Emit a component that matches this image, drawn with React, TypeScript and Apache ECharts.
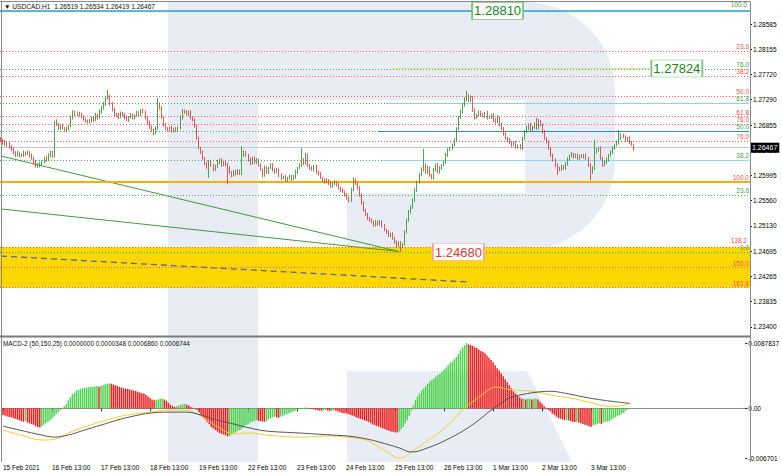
import React, { useEffect, useRef } from "react";
import * as echarts from "echarts";

const FONT = "'Liberation Sans', Arial, sans-serif";

// ---- time axis ----
const DAYS = ["15 Feb", "16 Feb", "17 Feb", "18 Feb", "19 Feb", "22 Feb", "23 Feb", "24 Feb", "25 Feb", "26 Feb", "1 Mar", "2 Mar", "3 Mar", "4 Mar"];
const FIRST_DAY_START_HOUR = 13;
const LAST_DAY_END_HOUR = 8;
const SLOT_COUNT = 364;
const FIRST_LABEL = "15 Feb 2021";

// ---- price data (H1 candles) ----
const PIP = 0.0001;
const FIRST_OPEN = 1.2662;
const CLOSES = [
  1.2660, 1.2656, 1.2651, 1.2655, 1.2648, 1.2643, 1.2639, 1.2634, 1.2638, 1.2633,
  1.2634, 1.2638, 1.2636, 1.2639, 1.2634, 1.2629, 1.2622, 1.2615, 1.2617, 1.2620,
  1.2622, 1.2629, 1.2626, 1.2634, 1.2639, 1.2633, 1.2691, 1.2686, 1.2680, 1.2684,
  1.2680, 1.2677, 1.2680, 1.2684, 1.2698, 1.2708, 1.2703, 1.2706, 1.2703, 1.2699,
  1.2696, 1.2692, 1.2691, 1.2692, 1.2698, 1.2694, 1.2703, 1.2698, 1.2708, 1.2715,
  1.2720, 1.2732, 1.2735, 1.2722, 1.2711, 1.2704, 1.2703, 1.2699, 1.2706, 1.2703,
  1.2698, 1.2694, 1.2699, 1.2703, 1.2698, 1.2701, 1.2706, 1.2703, 1.2711, 1.2708,
  1.2698, 1.2691, 1.2682, 1.2677, 1.2672, 1.2680, 1.2722, 1.2715, 1.2698, 1.2686,
  1.2680, 1.2677, 1.2680, 1.2675, 1.2679, 1.2677, 1.2680, 1.2698, 1.2710, 1.2708,
  1.2704, 1.2708, 1.2698, 1.2694, 1.2684, 1.2663, 1.2646, 1.2639, 1.2629, 1.2620,
  1.2614, 1.2622, 1.2617, 1.2609, 1.2615, 1.2622, 1.2626, 1.2617, 1.2622, 1.2619,
  1.2612, 1.2605, 1.2600, 1.2605, 1.2602, 1.2607, 1.2603, 1.2634, 1.2639, 1.2633,
  1.2626, 1.2620, 1.2629, 1.2622, 1.2626, 1.2617, 1.2609, 1.2600, 1.2612, 1.2605,
  1.2612, 1.2617, 1.2609, 1.2605, 1.2609, 1.2600, 1.2595, 1.2597, 1.2591, 1.2595,
  1.2598, 1.2593, 1.2597, 1.2605, 1.2612, 1.2617, 1.2626, 1.2620, 1.2634, 1.2617,
  1.2612, 1.2609, 1.2615, 1.2605, 1.2602, 1.2595, 1.2591, 1.2588, 1.2591, 1.2586,
  1.2581, 1.2585, 1.2588, 1.2583, 1.2578, 1.2574, 1.2571, 1.2566, 1.2561, 1.2557,
  1.2574, 1.2591, 1.2586, 1.2578, 1.2566, 1.2552, 1.2540, 1.2532, 1.2526, 1.2523,
  1.2520, 1.2514, 1.2520, 1.2516, 1.2520, 1.2513, 1.2506, 1.2502, 1.2497, 1.2499,
  1.2492, 1.2485, 1.2480, 1.2484, 1.2478, 1.2482, 1.2502, 1.2523, 1.2537, 1.2544,
  1.2557, 1.2574, 1.2588, 1.2600, 1.2609, 1.2617, 1.2605, 1.2612, 1.2600, 1.2595,
  1.2609, 1.2617, 1.2605, 1.2612, 1.2617, 1.2622, 1.2634, 1.2643, 1.2646, 1.2651,
  1.2660, 1.2680, 1.2698, 1.2708, 1.2720, 1.2728, 1.2735, 1.2728, 1.2732, 1.2711,
  1.2698, 1.2703, 1.2708, 1.2703, 1.2701, 1.2706, 1.2698, 1.2699, 1.2703, 1.2694,
  1.2691, 1.2698, 1.2686, 1.2680, 1.2670, 1.2663, 1.2660, 1.2656, 1.2651, 1.2655,
  1.2648, 1.2650, 1.2646, 1.2663, 1.2674, 1.2680, 1.2686, 1.2677, 1.2682, 1.2687,
  1.2680, 1.2691, 1.2686, 1.2674, 1.2663, 1.2656, 1.2646, 1.2634, 1.2626, 1.2617,
  1.2612, 1.2609, 1.2615, 1.2612, 1.2619, 1.2626, 1.2633, 1.2636, 1.2631, 1.2634,
  1.2629, 1.2633, 1.2631, 1.2634, 1.2629, 1.2617, 1.2605, 1.2612, 1.2639, 1.2643,
  1.2646, 1.2629, 1.2617, 1.2622, 1.2626, 1.2634, 1.2639, 1.2646, 1.2651, 1.2655,
  1.2663, 1.2668, 1.2665, 1.2660, 1.2663, 1.2656, 1.26519, 1.26467,
];
const UPPER_WICK_PIPS = [
  3, 2, 4, 3, 2, 3, 4, 2, 3, 2, 3, 4, 2, 3, 2, 3, 2, 4, 3, 2,
  3, 2, 4, 3, 3, 2, 2, 4, 3, 2, 3, 2, 3, 2, 4, 3, 2, 3, 2, 4,
  3, 2, 3, 4, 2, 3, 3, 2, 4, 3, 5, 3, 11, 2, 3, 4, 2, 3, 3, 2,
  3, 4, 2, 3, 2, 3, 4, 3, 2, 3, 2, 3, 2, 3, 2, 3, 10, 2, 3, 2,
  3, 2, 3, 4, 2, 3, 3, 4, 3, 2, 3, 2, 3, 2, 3, 2, 3, 2, 3, 2,
  3, 4, 3, 2, 3, 4, 2, 3, 2, 3, 2, 3, 2, 3, 4, 3, 2, 15, 3, 2,
  3, 4, 2, 3, 3, 2, 3, 2, 4, 3, 2, 3, 3, 2, 3, 2, 3, 2, 3, 2,
  3, 2, 3, 4, 2, 3, 20, 3, 4, 3, 2, 3, 2, 3, 2, 3, 2, 3, 3, 2,
  3, 2, 3, 2, 3, 2, 3, 2, 3, 2, 4, 5, 3, 2, 3, 2, 3, 2, 3, 2,
  3, 2, 3, 2, 3, 2, 3, 2, 3, 2, 3, 2, 3, 2, 3, 2, 3, 2, 3, 4,
  3, 3, 2, 3, 4, 28, 3, 4, 3, 2, 3, 2, 4, 3, 2, 3, 4, 3, 2, 3,
  3, 2, 3, 4, 3, 5, 9, 3, 4, 3, 3, 2, 3, 2, 3, 2, 4, 3, 2, 3,
  3, 4, 2, 3, 2, 3, 2, 3, 2, 3, 3, 2, 3, 2, 3, 4, 2, 3, 2, 3,
  11, 5, 3, 2, 3, 2, 3, 2, 3, 2, 3, 2, 3, 2, 3, 4, 2, 3, 2, 3,
  3, 2, 3, 2, 3, 2, 3, 3, 21, 3, 2, 3, 2, 3, 4, 2, 3, 3, 2, 4,
  14, 3, 2, 3, 2, 3, 2, 1.5,
];
const LOWER_WICK_PIPS = [
  3, 4, 2, 3, 3, 2, 4, 3, 2, 3, 2, 3, 3, 2, 4, 3, 3, 2, 3, 4,
  3, 2, 3, 2, 3, 4, 3, 2, 3, 3, 2, 3, 4, 3, 2, 3, 3, 2, 3, 2,
  3, 2, 3, 3, 2, 3, 2, 3, 2, 3, 3, 2, 3, 3, 2, 3, 4, 3, 2, 3,
  3, 2, 3, 2, 3, 3, 2, 3, 2, 3, 3, 4, 3, 3, 4, 2, 3, 3, 2, 3,
  3, 3, 2, 3, 2, 3, 3, 2, 3, 3, 2, 3, 3, 2, 3, 3, 2, 3, 3, 3,
  4, 19, 3, 3, 2, 3, 3, 3, 2, 4, 28, 3, 4, 3, 3, 2, 3, 3, 3, 2,
  3, 3, 2, 3, 3, 3, 2, 4, 3, 3, 3, 2, 3, 3, 2, 4, 3, 2, 3, 3,
  3, 3, 2, 3, 3, 2, 3, 3, 2, 3, 3, 2, 3, 3, 3, 2, 3, 3, 2, 3,
  3, 3, 2, 3, 3, 3, 2, 3, 3, 4, 3, 2, 3, 3, 3, 3, 3, 2, 3, 3,
  3, 3, 2, 3, 3, 3, 2, 3, 3, 3, 3, 3, 4, 3, 10, 3, 3, 2, 3, 3,
  2, 3, 3, 3, 2, 3, 3, 3, 3, 2, 3, 3, 2, 3, 3, 2, 3, 3, 2, 3,
  2, 3, 3, 2, 3, 3, 2, 3, 3, 3, 3, 2, 3, 3, 2, 3, 3, 2, 3, 3,
  3, 2, 3, 3, 3, 2, 3, 3, 3, 2, 3, 3, 2, 3, 3, 2, 3, 3, 2, 3,
  3, 2, 3, 3, 3, 2, 3, 3, 3, 3, 12, 3, 2, 3, 3, 3, 2, 3, 3, 2,
  3, 3, 2, 3, 3, 3, 14, 3, 3, 2, 3, 3, 3, 2, 3, 3, 2, 3, 3, 2,
  3, 3, 2, 3, 3, 3, 2, 4.8,
];

const PRICE_MIN = 1.23243;
const PRICE_MAX = 1.28962;
const PRICE_TICKS = [1.28585, 1.28155, 1.2772, 1.2729, 1.26855, 1.26425, 1.25995, 1.2556, 1.2513, 1.24695, 1.24265, 1.23835, 1.234];

// ---- drawn objects ----
const GREEN_FIB_0 = 1.2468;
const GREEN_FIB_100 = 1.2881;
const GREEN_LEVELS = [0, 23.6, 38.2, 50, 61.8, 76, 100];
const RED_FIB_0 = 1.2881;
const RED_FIB_100 = 1.2588;
const RED_LEVELS = [23.6, 38.2, 50, 61.8, 76, 100, 138.2, 150, 161.8];
const EXTRA_RED_LEVELS = [{ level: 76, price: 1.26873 }];
const CYAN_SEGMENTS = [
  { price: 1.27232, fromBar: 188, color: "#86d3ef" },
  { price: 1.26745, fromBar: 183, color: "#2a93b8" },
  { price: 1.26258, fromBar: 185, color: "#8fd8f2" },
];
const YELLOW_SEGMENT = { price: 1.27824, fromBar: 190, toBar: 316 };
const TOP_LINE_PRICE = 1.2881;
const CURRENT_PRICE = 1.26467;
const TREND_A = [[0, 1.26325], [193, 1.2469]];
const TREND_B = [[0, 1.25418], [193, 1.2469]];
const DASHED_LINE = [[0, 1.24612], [227, 1.24167]];
const BOXES = [
  { bar: 241, price: 1.2881, text: "1.28810", kind: "green" },
  { bar: 328, price: 1.27824, text: "1.27824", kind: "green" },
  { bar: 222, price: 1.2468, text: "1.24680", kind: "red" },
];

// ---- MACD ----
const MACD_UNIT = 0.0001;
const MACD_MIN = -0.006701;
const MACD_MAX = 0.0087837;
const MACD_TICKS = [0.0087837, 0, -0.006701];
const MACD_HIST = [
  -9, -10, -11, -11.5, -12, -13, -14, -15, -16, -17,
  -18, -17, -19, -20, -21, -22, -24, -25, -25.5, -24,
  -22, -20, -18, -16, -14, -11, -8, -5, -2, 0.5,
  3, 6, 11, 15, 19, 21, 24, 25, 26, 27,
  27.5, 28, 28.5, 28.8, 29, 29.5, 30, 29, 30, 31,
  32, 33, 33.5, 33, 32, 31, 30, 29, 28, 27,
  26.5, 26, 25.5, 24.5, 24, 23.5, 22.5, 21.5, 20.5, 20,
  18, 16, 14, 12, 11, 11.5, 12, 13, 13.2, 12,
  10, 7.5, 5, 3, 2, 3, 4, 5, 5.5, 6,
  5, 4, 2, 1, 0.2, -2, -5, -9, -12, -15,
  -18, -21, -25, -27, -29, -31, -33, -34, -35, -36,
  -37.5, -37, -35, -33, -32, -30, -29, -27, -25, -22.5,
  -21.5, -19, -18, -17, -16, -16.5, -17, -17.5, -18, -17.5,
  -15, -13, -12, -11, -12, -12.5, -11, -10, -8.5, -7.5,
  -6.5, -5.5, -4.5, -3.2, -2.2, -1.1, -1, 0.2, 1, 1.2,
  0.3, -1, -1.2, -2, -2.2, -3, -3.2, -2.5, -2, -3,
  -3.3, -3, -2.2, -3, -4, -5, -6.2, -6.5, -6.8, -7.5,
  -8.5, -9.5, -10.5, -12, -13, -14, -15, -16, -17, -18,
  -19.5, -21.5, -22.5, -23.5, -24.5, -25.5, -27, -28, -29, -30,
  -31, -31.5, -32, -32.3, -31, -28, -25, -20, -16, -10,
  -3, 4, 11, 16, 20, 24, 27, 30, 33, 36,
  38, 40, 43, 45, 47, 49, 52, 55, 58, 61,
  63, 66, 69, 73, 78, 82, 85, 87.837, 86, 85,
  84, 82, 81, 79, 77, 76, 74, 71, 68, 65,
  62, 58, 54, 51, 47, 43, 39, 35, 31, 27,
  23, 20, 17, 15, 13, 13.2, 12, 13, 13.4, 12,
  13, 13.3, 12, 9, 6, 3, 1, -2, -4, -7,
  -9, -11, -13, -14, -15, -16, -15.5, -16, -17, -18,
  -18.3, -18, -19, -20, -21, -22, -23, -24, -24.5, -23,
  -22, -21, -20, -21, -19, -18, -17.5, -17, -15, -13,
  -12, -10, -9, -7, -6, -3, -1.5, 0.348,
];
const YELLOW_BARS = [0, 9, 19, 26, 32, 40, 48, 56, 64, 72, 81, 88, 93, 100, 106, 113, 121, 129, 145, 161, 169, 178, 184, 189, 194, 200, 207, 217, 226, 233, 239, 242, 247, 252, 262, 268, 278, 287, 296, 300, 307];
const YELLOW_VALUES = [-29, -36, -42.5, -41, -33, -25, -18, -11.7, -7.6, -5, -2.3, -2.3, -4.5, -15.7, -26.4, -34.3, -33, -35.8, -38.5, -37, -38.5, -42.5, -52, -60, -67.01, -58.6, -45, -25, 0.4, 15, 27, 28.5, 26, 24.5, 22, 18, 13.8, 8.4, 3, 3, 6.86];
const GRAY_BARS = [0, 8, 19, 25, 32, 40, 48, 56, 64, 72, 81, 90, 97, 105, 113, 121, 129, 145, 161, 169, 178, 184, 194, 200, 208, 217, 226, 233, 239, 246, 249, 255, 262, 268, 275, 285, 294, 307];
const GRAY_VALUES = [-23.7, -29, -35.8, -38.5, -35.8, -29, -22.4, -15.7, -10.3, -6.3, -5, -5, -9, -15.7, -21, -26.4, -30.4, -33, -35.8, -37.2, -41, -45, -53, -58.6, -53, -42.5, -29, -15.7, -2.3, 11, 15, 19, 22, 23, 20.5, 15, 11, 6.74];

const HEADER_TEXT = "\u25BC USDCAD,H1  1.26519 1.26534 1.26419 1.26467";
const MACD_TEXT = "MACD-2 (50,150,25) 0.0000000 0.0000348 0.0006860 0.0006744";

// ---- colours ----
const BULL = "#1f8f23";
const BEAR = "#ef2b2b";
const FIB_GREEN = "#55a855";
const FIB_RED = "#ff5b5b";
const HIST_GREEN = "#4fd34f";
const HIST_RED = "#ee2020";
const WATERMARK = "#e8ecf4";

function buildCategories(): string[] {
  const out: string[] = [];
  DAYS.forEach((d, di) => {
    const start = di === 0 ? FIRST_DAY_START_HOUR : 0;
    const end = di === DAYS.length - 1 ? LAST_DAY_END_HOUR : 23;
    for (let h = start; h <= end; h++) out.push(`${d} ${String(h).padStart(2, "0")}:00`);
  });
  while (out.length < SLOT_COUNT) out.push("");
  return out;
}

function buildOption() {
  const categories = buildCategories();
  const showIdx = (i: number) => i === 0 || (categories[i] || "").endsWith(" 13:00");

  const candles = CLOSES.map((c, i) => {
    const o = i === 0 ? FIRST_OPEN : CLOSES[i - 1];
    const hi = Math.max(o, c) + UPPER_WICK_PIPS[i] * PIP;
    const lo = Math.min(o, c) - LOWER_WICK_PIPS[i] * PIP;
    return [o, c, lo, hi];
  });

  const greenPrice = (l: number) => GREEN_FIB_0 + ((GREEN_FIB_100 - GREEN_FIB_0) * l) / 100;
  const redPrice = (l: number) => RED_FIB_0 - ((RED_FIB_0 - RED_FIB_100) * l) / 100;

  const lbl = (text: string, color: string, distance = 1) => ({
    show: true,
    position: "insideEndTop",
    formatter: text,
    color,
    fontSize: 6.5,
    fontFamily: FONT,
    distance,
  });

  const markLines: any[] = [];
  GREEN_LEVELS.forEach((l) => {
    markLines.push({ yAxis: greenPrice(l), lineStyle: { color: FIB_GREEN, type: [1, 2], width: 1 }, label: lbl(l.toFixed(1), "#3f9f3f", l === 100 ? 3 : 1) });
  });
  RED_LEVELS.forEach((l) => {
    const isHundred = l === 100;
    markLines.push({
      yAxis: redPrice(l),
      lineStyle: isHundred ? { color: "#ffae00", type: "solid", width: 2 } : { color: FIB_RED, type: [1, 2], width: 1 },
      label: lbl(l.toFixed(1), "#ff4f4f", l === 138.2 ? 3 : 1),
    });
  });
  EXTRA_RED_LEVELS.forEach((e) => {
    markLines.push({ yAxis: e.price, lineStyle: { color: FIB_RED, type: [1, 2], width: 1 }, label: lbl(e.level.toFixed(1), "#ff4f4f") });
  });
  markLines.push({ yAxis: TOP_LINE_PRICE, lineStyle: { color: "#27a6d9", type: "solid", width: 1.5 }, label: { show: false } });
  CYAN_SEGMENTS.forEach((s) => {
    markLines.push([
      { coord: [s.fromBar, s.price], lineStyle: { color: s.color, type: "solid", width: 1.2 }, label: { show: false } },
      { coord: [SLOT_COUNT - 1, s.price] },
    ]);
  });
  markLines.push([
    { coord: [YELLOW_SEGMENT.fromBar, YELLOW_SEGMENT.price], lineStyle: { color: "#e9e28a", type: "solid", width: 1 }, label: { show: false } },
    { coord: [YELLOW_SEGMENT.toBar, YELLOW_SEGMENT.price] },
  ]);
  markLines.push({
    yAxis: CURRENT_PRICE,
    lineStyle: { color: "#c8c8c8", type: "solid", width: 1 },
    label: {
      show: true,
      position: "end",
      formatter: CURRENT_PRICE.toFixed(5),
      color: "#fff",
      backgroundColor: "#000",
      padding: [2, 2, 1, 2],
      fontSize: 7,
      fontFamily: FONT,
      distance: 0,
    },
  });

  const zoneTop = redPrice(138.2);
  const zoneBottom = redPrice(161.8);

  const histData = MACD_HIST.map((v, i) => {
    const prev = i === 0 ? v + 1 : MACD_HIST[i - 1];
    return { value: v * MACD_UNIT, itemStyle: { color: v > prev ? HIST_GREEN : HIST_RED } };
  });

  const wm = (shape: any, type = "rect") => ({ type, shape, style: { fill: WATERMARK }, z: 0, silent: true });
  const frameLine = (x1: number, y1: number, x2: number, y2: number, w = 1, c = "#8a8a8a") => ({
    type: "line",
    shape: { x1, y1, x2, y2 },
    style: { stroke: c, lineWidth: w },
    z: 50,
    silent: true,
  });

  return {
    animation: false,
    backgroundColor: "#ffffff",
    textStyle: { fontFamily: FONT },
    grid: [
      { left: 0, top: 2, width: 750, height: 334 },
      { left: 0, top: 343, width: 750, height: 115.3 },
    ],
    xAxis: [
      { type: "category", gridIndex: 0, data: categories, boundaryGap: true, show: false },
      {
        type: "category",
        gridIndex: 1,
        data: categories,
        boundaryGap: true,
        offset: 4,
        axisLine: { show: true, lineStyle: { color: "#8a8a8a", width: 1 } },
        axisTick: { show: true, interval: (i: number) => showIdx(i), alignWithLabel: true, length: 3, lineStyle: { color: "#333" } },
        axisLabel: {
          interval: (i: number) => showIdx(i),
          formatter: (v: string, i: number) => (i === 0 ? FIRST_LABEL : v),
          align: "left",
          fontSize: 6.5,
          color: "#000",
          margin: 2,
          fontFamily: FONT,
        },
        splitLine: { show: false },
      },
    ],
    yAxis: [
      {
        type: "value",
        gridIndex: 0,
        position: "right",
        min: PRICE_MIN,
        max: PRICE_MAX,
        axisLine: { show: false },
        splitLine: { show: false },
        axisTick: { show: true, customValues: PRICE_TICKS, length: 2, lineStyle: { color: "#000" } },
        axisLabel: { customValues: PRICE_TICKS, formatter: (v: number) => v.toFixed(5), fontSize: 6.5, color: "#000", margin: 3, fontFamily: FONT },
      },
      {
        type: "value",
        gridIndex: 1,
        position: "right",
        min: MACD_MIN,
        max: MACD_MAX,
        axisLine: { show: false },
        splitLine: { show: false },
        axisTick: { show: true, customValues: MACD_TICKS, length: 2, lineStyle: { color: "#000" } },
        axisLabel: {
          customValues: MACD_TICKS,
          formatter: (v: number) => (Math.abs(v) < 1e-9 ? "0.00" : v > 0 ? "0.0087837" : "-0.006701"),
          fontSize: 6.5,
          color: "#000",
          margin: 3,
          fontFamily: FONT,
        },
      },
    ],
    series: [
      {
        name: "zone",
        type: "line",
        xAxisIndex: 0,
        yAxisIndex: 0,
        data: [],
        z: 1,
        silent: true,
        markArea: {
          silent: true,
          itemStyle: { color: "#ffd700", opacity: 1 },
          data: [[{ yAxis: zoneBottom }, { yAxis: zoneTop }]],
        },
      },
      {
        name: "levels",
        type: "line",
        xAxisIndex: 0,
        yAxisIndex: 0,
        data: [],
        z: 2,
        silent: true,
        markLine: { silent: true, precision: 6, symbol: ["none", "none"], animation: false, data: markLines },
      },
      {
        name: "trendA",
        type: "line",
        xAxisIndex: 0,
        yAxisIndex: 0,
        data: TREND_A,
        symbol: "none",
        z: 3,
        lineStyle: { color: "#3f9d3f", width: 1 },
        silent: true,
      },
      {
        name: "trendB",
        type: "line",
        xAxisIndex: 0,
        yAxisIndex: 0,
        data: TREND_B,
        symbol: "none",
        z: 3,
        lineStyle: { color: "#3f9d3f", width: 1 },
        silent: true,
      },
      {
        name: "dashed",
        type: "line",
        xAxisIndex: 0,
        yAxisIndex: 0,
        data: DASHED_LINE,
        symbol: "none",
        z: 3,
        lineStyle: { color: "#5566a6", width: 1.3, type: [6, 4] },
        silent: true,
      },
      {
        name: "USDCAD",
        type: "candlestick",
        xAxisIndex: 0,
        yAxisIndex: 0,
        data: candles,
        z: 5,
        barWidth: 1.2,
        itemStyle: { color: BULL, color0: BEAR, borderColor: BULL, borderColor0: BEAR, borderWidth: 0.8 },
        silent: true,
      },
      {
        name: "boxes",
        type: "line",
        xAxisIndex: 0,
        yAxisIndex: 0,
        data: [],
        z: 6,
        silent: true,
        markPoint: {
          silent: true,
          animation: false,
          data: BOXES.map((b) => ({
            coord: [b.bar, b.price],
            symbol: "rect",
            symbolSize: [51, 17],
            itemStyle: { color: "#ffffff", borderColor: b.kind === "green" ? "#7cc07c" : "#f2a0a0", borderWidth: 1 },
            label: {
              show: true,
              position: "inside",
              formatter: b.text,
              color: b.kind === "green" ? "#17861a" : "#e53535",
              fontSize: 13,
              fontFamily: FONT,
            },
          })),
        },
      },
      {
        name: "MACD hist",
        type: "bar",
        xAxisIndex: 1,
        yAxisIndex: 1,
        data: histData,
        barWidth: 1.5,
        z: 2,
        silent: true,
      },
      {
        name: "MACD signal",
        type: "line",
        xAxisIndex: 1,
        yAxisIndex: 1,
        data: YELLOW_BARS.map((b, k) => [b, YELLOW_VALUES[k] * MACD_UNIT]),
        smooth: 0.4,
        symbol: "none",
        z: 3,
        lineStyle: { color: "#f2cf2c", width: 1 },
        silent: true,
      },
      {
        name: "MACD main",
        type: "line",
        xAxisIndex: 1,
        yAxisIndex: 1,
        data: GRAY_BARS.map((b, k) => [b, GRAY_VALUES[k] * MACD_UNIT]),
        smooth: 0.4,
        symbol: "none",
        z: 3,
        lineStyle: { color: "#555555", width: 1 },
        silent: true,
      },
    ],
    graphic: [
      wm({ x: 168, y: 2, width: 90, height: 460 }),
      wm({ x: 258, y: 2, width: 267, height: 98 }),
      wm({ x: 525, y: 2, width: 90, height: 248, r: [0, 90, 90, 0] }),
      wm({ x: 347, y: 193, width: 178, height: 57 }),
      wm({ points: [[347, 371], [527, 371], [572, 462], [347, 462]] }, "polygon"),
      frameLine(0, 1.5, 750, 1.5),
      frameLine(1.5, 1.5, 1.5, 462),
      frameLine(750.5, 1.5, 750.5, 462),
      frameLine(0, 336.5, 750, 336.5, 2, "#7a7a7a"),
      {
        type: "text",
        x: 4,
        y: 6,
        style: { text: HEADER_TEXT, fill: "#111", font: `6.6px ${FONT}`, textVerticalAlign: "middle" },
        z: 60,
        silent: true,
      },
      {
        type: "text",
        x: 3,
        y: 343,
        style: { text: MACD_TEXT, fill: "#111", font: `6.4px ${FONT}`, textVerticalAlign: "middle" },
        z: 60,
        silent: true,
      },
    ],
  };
}

export default function App() {
  const ref = useRef<HTMLDivElement>(null);
  useEffect(() => {
    if (!ref.current) return;
    const chart = echarts.init(ref.current, null, { renderer: "svg" });
    chart.setOption(buildOption() as any);
    return () => chart.dispose();
  }, []);
  return <div ref={ref} style={{ position: "fixed", left: 0, top: 0, width: 782, height: 475 }} />;
}
